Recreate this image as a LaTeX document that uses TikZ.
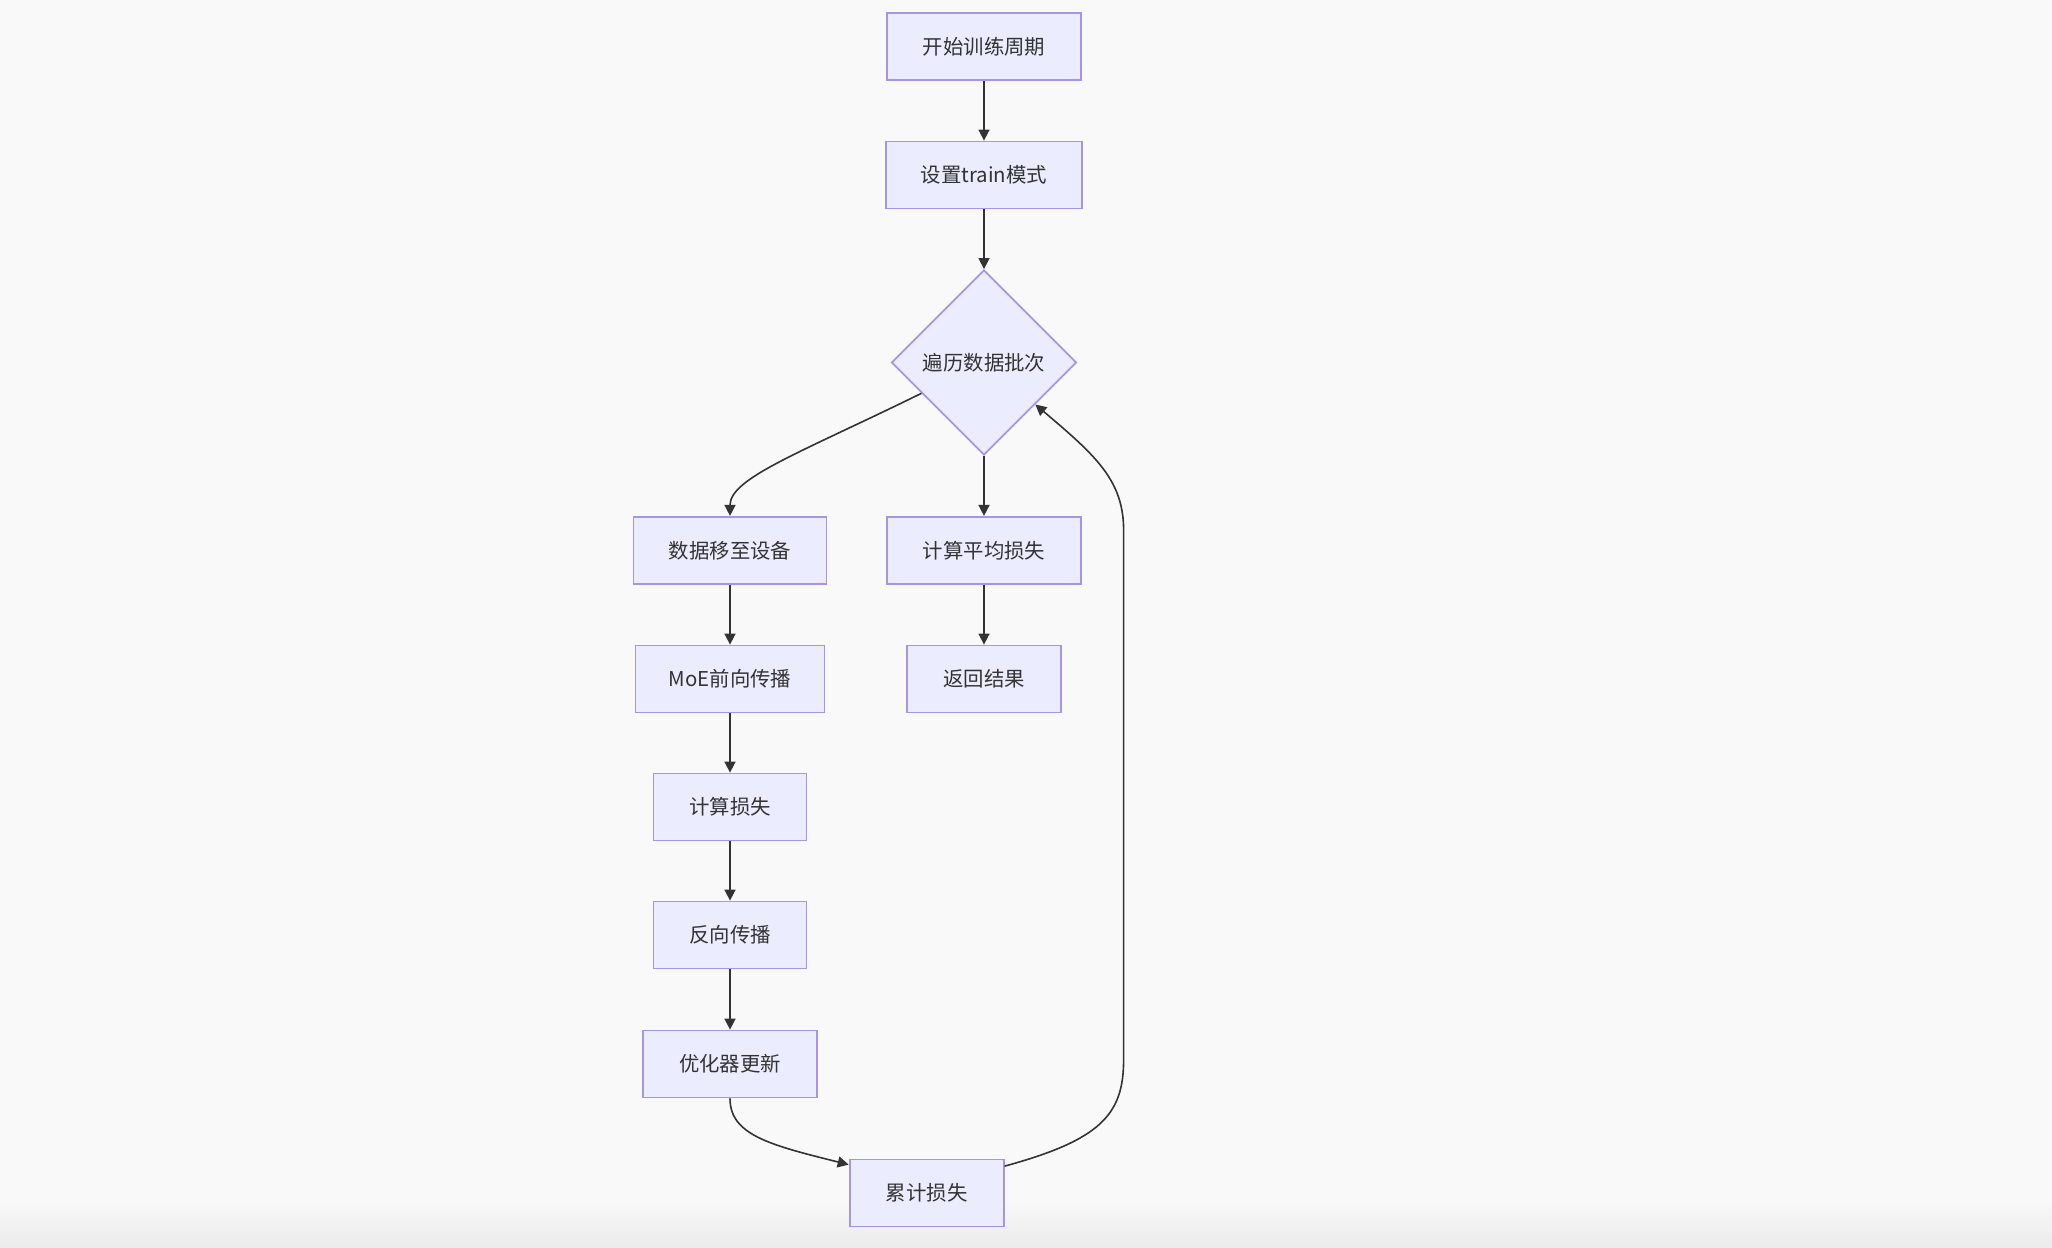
\documentclass[tikz,border=0pt]{standalone}
\usepackage{fontspec}
\setmainfont{Noto Sans CJK SC}
\usetikzlibrary{arrows.meta,shapes.geometric,calc}
\definecolor{bgcol}{HTML}{F9F9F9}
\definecolor{boxfill}{HTML}{ECECFF}
\definecolor{boxline}{HTML}{A794E6}
\definecolor{inkcol}{HTML}{333333}
\begin{document}
\begin{tikzpicture}[
			x=0.5pt, y=-0.5pt,
			box/.style={draw=boxline, fill=boxfill, line width=0.9pt, minimum height=33.5pt, inner sep=0pt, align=center, font=\fontsize{10.2}{12}\selectfont, text=inkcol},
			decision/.style={box, diamond, aspect=1, minimum width=92.5pt, minimum height=92.5pt},
			arrow/.style={-{Triangle[length=5.5pt,width=5.5pt]}, draw=inkcol, line width=0.8pt}
		]
			\fill[bgcol] (0,0) rectangle (2052,1248);
			\shade[top color=bgcol, bottom color=black!8] (0,1200) rectangle (2052,1248);
			\useasboundingbox (0,0) rectangle (2052,1248);

			\node[box, minimum width=97pt] (start) at (984, 46.7) {开始训练周期};
			\node[box, minimum width=98pt] (mode) at (984, 175) {设置train模式};
			\node[decision] (batch) at (984, 362.5) {遍历数据批次};
			\node[box, minimum width=96.5pt] (move) at (730, 550.3) {数据移至设备};
			\node[box, minimum width=97pt] (avg) at (984, 550.3) {计算平均损失};
			\node[box, minimum width=94.5pt] (fwd) at (730, 679) {MoE前向传播};
			\node[box, minimum width=77pt] (ret) at (984, 679) {返回结果};
			\node[box, minimum width=76.5pt] (loss) at (730, 807) {计算损失};
			\node[box, minimum width=76.5pt] (bwd) at (730, 935) {反向传播};
			\node[box, minimum width=87pt] (opt) at (730, 1064) {优化器更新};
			\node[box, minimum width=77pt] (acc) at (926.6, 1193) {累计损失};

			\coordinate (outleft) at ($(batch.west)!0.33!(batch.south)$);
			\coordinate (inright) at ($(batch.east)!0.45!(batch.south)$);

			\draw[arrow] (start) -- (mode);
			\draw[arrow] (mode) -- (batch);
			\draw[arrow] (outleft) .. controls (800, 453) and (730, 478) .. (move.north);
			\draw[arrow] (batch) -- (avg);
			\draw[arrow] (move) -- (fwd);
			\draw[arrow] (avg) -- (ret);
			\draw[arrow] (fwd) -- (loss);
			\draw[arrow] (loss) -- (bwd);
			\draw[arrow] (bwd) -- (opt);
			\draw[arrow] (opt.south) .. controls (730, 1135) and (770, 1145) .. (acc.160);
			\draw[arrow] (acc.19) .. controls (1100, 1140) and (1123.6, 1115) .. (1123.6, 1060)
				-- (1123.6, 530) .. controls (1123.6, 480) and (1095, 455) .. (inright);
		\end{tikzpicture}
\end{document}
